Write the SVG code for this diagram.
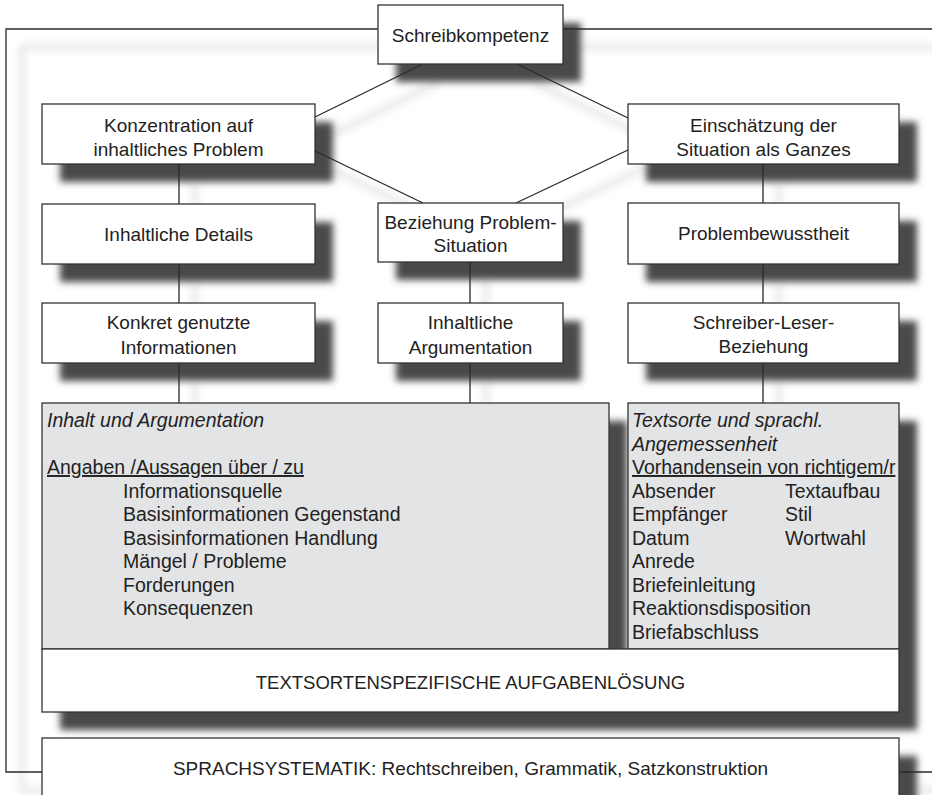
<svg xmlns="http://www.w3.org/2000/svg" width="932" height="795" viewBox="0 0 932 795">
<defs>
  <filter id="boxShadow" x="-20%" y="-20%" width="140%" height="140%">
    <feGaussianBlur stdDeviation="3.5"/>
  </filter>
  <filter id="lineShadow" x="-50%" y="-50%" width="200%" height="200%">
    <feGaussianBlur stdDeviation="4.5"/>
  </filter>
  <style>
    .box { fill: #ffffff; stroke: #333333; stroke-width: 1.3; }
    .gbox { fill: #e3e4e6; stroke: #333333; stroke-width: 1.3; }
    .sh { fill: #4a4a4a; }
    .lsh { fill: none; stroke: #000000; stroke-width: 2; stroke-opacity: 0.28; }
    .conn { fill: none; stroke: #2a2a2a; stroke-width: 1.3; }
    text { font-family: "Liberation Sans", Arial, sans-serif; fill: #222222; }
    .lbl { font-size: 19px; text-anchor: middle; }
    .lst { font-size: 19.5px; }
    .it { font-style: italic; }
    .ul { text-decoration: underline; }
  </style>
</defs>
<rect width="932" height="795" fill="#ffffff"/>

<!-- shadows of lines -->
<g id="line-shadows" class="lsh" filter="url(#lineShadow)" transform="translate(16,18)">
  <path d="M378,29 H6 V773 H42 M563,29 H932 M899,772 H932"/>
  <path d="M423,64 L315,117 M517,64 L628,118 M315,151 L423,203 M628,150 L516,203"/>
  <path d="M179,164 V204 M179,264 V303 M179,363 V403 M470,262 V303 M470,363 V403 M763,164 V203 M763,264 V303 M763,363 V403"/>
</g>

<!-- shadows of boxes -->
<g id="box-shadows" class="sh" filter="url(#boxShadow)">
  <rect x="396" y="23" width="185" height="59"/>
  <rect x="60" y="122" width="273" height="60"/>
  <rect x="646" y="122" width="271" height="60"/>
  <rect x="60" y="222" width="273" height="60"/>
  <rect x="396" y="221" width="185" height="59"/>
  <rect x="646" y="221" width="271" height="61"/>
  <rect x="60" y="321" width="273" height="60"/>
  <rect x="396" y="321" width="185" height="60"/>
  <rect x="646" y="321" width="271" height="60"/>
  <rect x="60" y="421" width="567" height="246"/>
  <rect x="646" y="421" width="271" height="246"/>
  <rect x="60" y="667" width="857" height="63"/>
  <rect x="60" y="756" width="857" height="80"/>
</g>

<!-- connectors -->
<g id="connectors" class="conn">
  <path d="M378,29 H6 V772 H42"/>
  <path d="M563,29 H932"/>
  <path d="M899,772 H932"/>
  <path d="M423,64 L315,117"/>
  <path d="M517,64 L628,118"/>
  <path d="M315,151 L423,203"/>
  <path d="M628,150 L516,203"/>
  <path d="M179,164 V204 M179,264 V303 M179,363 V403"/>
  <path d="M470,262 V303 M470,363 V403"/>
  <path d="M763,164 V203 M763,264 V303 M763,363 V403"/>
</g>

<g id="schreibkompetenz">
  <rect class="box" x="378" y="5" width="185" height="59"/>
  <text class="lbl" x="470.5" y="42">Schreibkompetenz</text>
</g>

<g id="konzentration">
  <rect class="box" x="42" y="104" width="273" height="60"/>
  <text class="lbl" x="178.5" y="132">Konzentration auf</text>
  <text class="lbl" x="178.5" y="156">inhaltliches Problem</text>
</g>

<g id="einschaetzung">
  <rect class="box" x="628" y="104" width="271" height="60"/>
  <text class="lbl" x="763.5" y="132">Einschätzung der</text>
  <text class="lbl" x="763.5" y="156">Situation als Ganzes</text>
</g>

<g id="inhaltliche-details">
  <rect class="box" x="42" y="204" width="273" height="60"/>
  <text class="lbl" x="178.5" y="241">Inhaltliche Details</text>
</g>

<g id="beziehung">
  <rect class="box" x="378" y="203" width="185" height="59"/>
  <text class="lbl" x="470.5" y="229">Beziehung Problem-</text>
  <text class="lbl" x="470.5" y="252">Situation</text>
</g>

<g id="problembewusstheit">
  <rect class="box" x="628" y="203" width="271" height="61"/>
  <text class="lbl" x="763.5" y="240">Problembewusstheit</text>
</g>

<g id="konkret">
  <rect class="box" x="42" y="303" width="273" height="60"/>
  <text class="lbl" x="178.5" y="329">Konkret genutzte</text>
  <text class="lbl" x="178.5" y="354">Informationen</text>
</g>

<g id="argumentation">
  <rect class="box" x="378" y="303" width="185" height="60"/>
  <text class="lbl" x="470.5" y="329">Inhaltliche</text>
  <text class="lbl" x="470.5" y="354">Argumentation</text>
</g>

<g id="schreiber-leser">
  <rect class="box" x="628" y="303" width="271" height="60"/>
  <text class="lbl" x="763.5" y="329">Schreiber-Leser-</text>
  <text class="lbl" x="763.5" y="353">Beziehung</text>
</g>

<g id="inhalt-und-argumentation">
  <rect class="gbox" x="42" y="403" width="567" height="246"/>
  <text class="lst it" x="47" y="427">Inhalt und Argumentation</text>
  <text class="lst ul" x="47" y="474">Angaben /Aussagen über / zu</text>
  <text class="lst" x="123" y="497.5">Informationsquelle</text>
  <text class="lst" x="123" y="521">Basisinformationen Gegenstand</text>
  <text class="lst" x="123" y="544.5">Basisinformationen Handlung</text>
  <text class="lst" x="123" y="568">Mängel / Probleme</text>
  <text class="lst" x="123" y="591.5">Forderungen</text>
  <text class="lst" x="123" y="615">Konsequenzen</text>
</g>

<g id="textsorte">
  <rect class="gbox" x="628" y="403" width="271" height="246"/>
  <text class="lst it" x="632" y="427">Textsorte und sprachl.</text>
  <text class="lst it" x="632" y="450.5">Angemessenheit</text>
  <text class="lst ul" x="632" y="474">Vorhandensein von richtigem/r</text>
  <text class="lst" x="632" y="497.5">Absender</text>
  <text class="lst" x="632" y="521">Empfänger</text>
  <text class="lst" x="632" y="544.5">Datum</text>
  <text class="lst" x="632" y="568">Anrede</text>
  <text class="lst" x="632" y="591.5">Briefeinleitung</text>
  <text class="lst" x="632" y="615">Reaktionsdisposition</text>
  <text class="lst" x="632" y="638.5">Briefabschluss</text>
  <text class="lst" x="785" y="497.5">Textaufbau</text>
  <text class="lst" x="785" y="521">Stil</text>
  <text class="lst" x="785" y="544.5">Wortwahl</text>
</g>

<g id="aufgabenloesung">
  <rect class="box" x="42" y="649" width="857" height="63"/>
  <text class="lbl" x="470.5" y="688.5" style="font-size:18.5px">TEXTSORTENSPEZIFISCHE AUFGABENLÖSUNG</text>
</g>

<g id="sprachsystematik">
  <rect class="box" x="42" y="738" width="857" height="80"/>
  <text class="lbl" x="470.5" y="775">SPRACHSYSTEMATIK: Rechtschreiben, Grammatik, Satzkonstruktion</text>
</g>
</svg>
